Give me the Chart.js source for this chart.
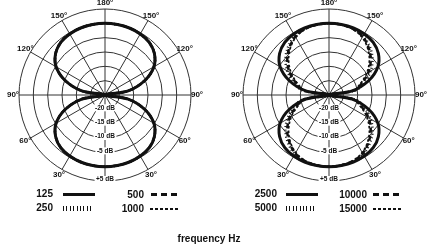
<!DOCTYPE html>
<html>
<head>
<meta charset="utf-8">
<script src="https://cdn.jsdelivr.net/npm/chart.js@4.4.1/dist/chart.umd.min.js"></script>
<style>
  html, body { margin: 0; padding: 0; background: #fff; }
  #wrap { position: relative; width: 430px; height: 247px; overflow: hidden; font-family: "Liberation Sans", Arial, sans-serif; color: #111; }
  canvas { position: absolute; top: 0; }
  .num { position: absolute; font-weight: bold; font-size: 10px; line-height: 10px; text-align: right; }
  .swatch { position: absolute; }
  .solid { height: 3px; background: #111; }
  .ticks { height: 5px; background: repeating-linear-gradient(to right, #111 0 1px, transparent 1px 3.4px); }
  .dash { height: 3px; background: repeating-linear-gradient(to right, #111 0 6px, transparent 6px 10px); }
  .fine { height: 2px; background: repeating-linear-gradient(to right, #111 0 3px, transparent 3px 5px); }
  #title { position: absolute; left: 0; width: 418px; top: 233px; text-align: center; font-weight: bold; font-size: 10px; }
</style>
</head>
<body>
<div id="wrap">
  <canvas id="lowChart" width="215" height="192" style="left:0"></canvas>
  <canvas id="highChart" width="215" height="192" style="left:215px"></canvas>

  <div class="num" style="left:23px;width:30px;top:189px">125</div>
  <div class="swatch solid" style="left:63px;width:32px;top:193px"></div>
  <div class="num" style="left:23px;width:30px;top:203px">250</div>
  <div class="swatch ticks" style="left:63px;width:31px;top:206px"></div>
  <div class="num" style="left:110px;width:34px;top:190px">500</div>
  <div class="swatch dash" style="left:151px;width:26px;top:193px"></div>
  <div class="num" style="left:110px;width:34px;top:204px">1000</div>
  <div class="swatch fine" style="left:150px;width:30px;top:208px"></div>

  <div class="num" style="left:237px;width:40px;top:189px">2500</div>
  <div class="swatch solid" style="left:286px;width:32px;top:193px"></div>
  <div class="num" style="left:237px;width:40px;top:203px">5000</div>
  <div class="swatch ticks" style="left:286px;width:31px;top:206px"></div>
  <div class="num" style="left:327px;width:40px;top:190px">10000</div>
  <div class="swatch dash" style="left:373px;width:27px;top:193px"></div>
  <div class="num" style="left:327px;width:40px;top:204px">15000</div>
  <div class="swatch fine" style="left:373px;width:30px;top:208px"></div>

  <div id="title">frequency Hz</div>
</div>

<script>
// angle of each spoke, measured from the bottom (0°) going round clockwise
const angleDegrees = [0, 10, 20, 30, 40, 50, 60, 70, 80, 90, 100, 110, 120, 130, 140, 150, 160, 170,
  180, 190, 200, 210, 220, 230, 240, 250, 260, 270, 280, 290, 300, 310, 320, 330, 340, 350];

// radial scale in dB
const dbMin = -25;
const dbMax = 5;
const dbTickValues = [-20, -15, -10, -5, 5];
const dbTickLabels = ['-20 dB', '-15 dB', '-10 dB', '-5 dB', '+5 dB'];

// 125 / 250 / 500 / 1000 Hz lie on top of each other
const lowBands = [0, -0.05, -0.13, -0.4, -1.0, -2.5, -5.3, -10.2, -16.8, -25,
  -16.8, -10.2, -5.3, -2.5, -1.0, -0.4, -0.13, -0.05, 0,
  -0.05, -0.13, -0.4, -1.0, -2.5, -5.3, -10.2, -16.8, -25,
  -16.8, -10.2, -5.3, -2.5, -1.0, -0.4, -0.13, -0.05];

const band2500 = [0, -0.05, -0.13, -0.4, -1.0, -2.5, -5.3, -10.2, -16.8, -25,
  -16.8, -10.2, -5.3, -2.5, -1.0, -0.4, -0.13, -0.05, 0,
  -0.05, -0.13, -0.4, -1.0, -2.5, -5.3, -10.2, -16.8, -25,
  -16.8, -10.2, -5.3, -2.5, -1.0, -0.4, -0.13, -0.05];

const band5000 = [0, -0.1, -0.4, -1.2, -2.9, -5.2, -8.2, -11.8, -15.5, -25,
  -15.5, -11.8, -8.2, -5.2, -2.9, -1.2, -0.4, -0.1, 0,
  -0.1, -0.4, -1.2, -2.9, -5.2, -8.2, -11.8, -15.5, -25,
  -15.5, -11.8, -8.2, -5.2, -2.9, -1.2, -0.4, -0.1];

const band10000 = [0, -0.1, -0.5, -1.5, -3.5, -6.0, -9.1, -12.8, -16.0, -25,
  -16.0, -12.8, -9.1, -6.0, -3.5, -1.5, -0.5, -0.1, 0,
  -0.1, -0.5, -1.5, -3.5, -6.0, -9.1, -12.8, -16.0, -25,
  -16.0, -12.8, -9.1, -6.0, -3.5, -1.5, -0.5, -0.1];

const band15000 = [0, -0.15, -0.6, -1.8, -3.9, -6.6, -9.8, -13.3, -16.4, -25,
  -16.4, -13.3, -9.8, -6.6, -3.9, -1.8, -0.6, -0.15, 0,
  -0.15, -0.6, -1.8, -3.9, -6.6, -9.8, -13.3, -16.4, -25,
  -16.4, -13.3, -9.8, -6.6, -3.9, -1.8, -0.6, -0.15];

const INK = '#111';
const GRID = '#333';

const styles = {
  solid: { borderWidth: 3, borderDash: [] },
  ticks: { borderWidth: 2.5, borderDash: [1, 2.5] },
  dash: { borderWidth: 2.5, borderDash: [5, 3] },
  fine: { borderWidth: 1.8, borderDash: [2.5, 2] }
};

function series(label, data, style) {
  return {
    label: label,
    data: data,
    borderColor: INK,
    backgroundColor: 'transparent',
    fill: false,
    borderWidth: styles[style].borderWidth,
    borderDash: styles[style].borderDash,
    borderCapStyle: 'butt',
    pointRadius: 0,
    tension: 0.35
  };
}

// angle labels and dB labels, placed with the radial scale
const polarLabels = {
  id: 'polarLabels',
  afterDraw(chart) {
    const r = chart.scales.r;
    const ctx = chart.ctx;
    ctx.save();
    ctx.fillStyle = INK;
    ctx.textAlign = 'center';
    ctx.textBaseline = 'middle';
    ctx.font = 'bold 8px "Liberation Sans", Arial, sans-serif';
    angleDegrees.forEach((a, i) => {
      if (a % 30 !== 0 || a === 0) return;
      const shown = a <= 180 ? a : 360 - a;
      const p = r.getPointPosition(i, r.drawingArea + 6);
      ctx.fillText(shown + '°', p.x, p.y);
    });

    ctx.font = 'bold 6.5px "Liberation Sans", Arial, sans-serif';
    dbTickValues.forEach((v, k) => {
      const y = r.yCenter + r.getDistanceFromCenterForValue(v) - 1.5;
      const w = ctx.measureText(dbTickLabels[k]).width;
      ctx.fillStyle = '#fff';
      ctx.fillRect(r.xCenter - w / 2 - 1.5, y - 3.5, w + 3, 7);
      ctx.fillStyle = INK;
      ctx.fillText(dbTickLabels[k], r.xCenter, y);
    });
    ctx.restore();
  }
};

function makePolar(id, datasets, padLeft, padRight) {
  return new Chart(document.getElementById(id), {
    type: 'radar',
    data: { labels: angleDegrees, datasets: datasets },
    options: {
      responsive: false,
      animation: false,
      layout: { padding: { left: padLeft, right: padRight, top: 9, bottom: 11 } },
      plugins: { legend: { display: false }, tooltip: { enabled: false } },
      scales: {
        r: {
          min: dbMin,
          max: dbMax,
          startAngle: 180,
          ticks: { display: false, stepSize: 5 },
          grid: { circular: true, color: GRID, lineWidth: 1 },
          angleLines: {
            color: GRID,
            lineWidth: ctx => (ctx.index % 3 === 0 ? 1 : 0)
          },
          pointLabels: { display: false }
        }
      }
    },
    plugins: [polarLabels]
  });
}

window.addEventListener('DOMContentLoaded', () => {
  makePolar('lowChart', [
    series('125', lowBands, 'solid'),
    series('250', lowBands, 'ticks'),
    series('500', lowBands, 'dash'),
    series('1000', lowBands, 'fine')
  ], 19, 24);

  makePolar('highChart', [
    series('2500', band2500, 'solid'),
    series('5000', band5000, 'ticks'),
    series('10000', band10000, 'dash'),
    series('15000', band15000, 'fine')
  ], 28, 15);
});
</script>
</body>
</html>
